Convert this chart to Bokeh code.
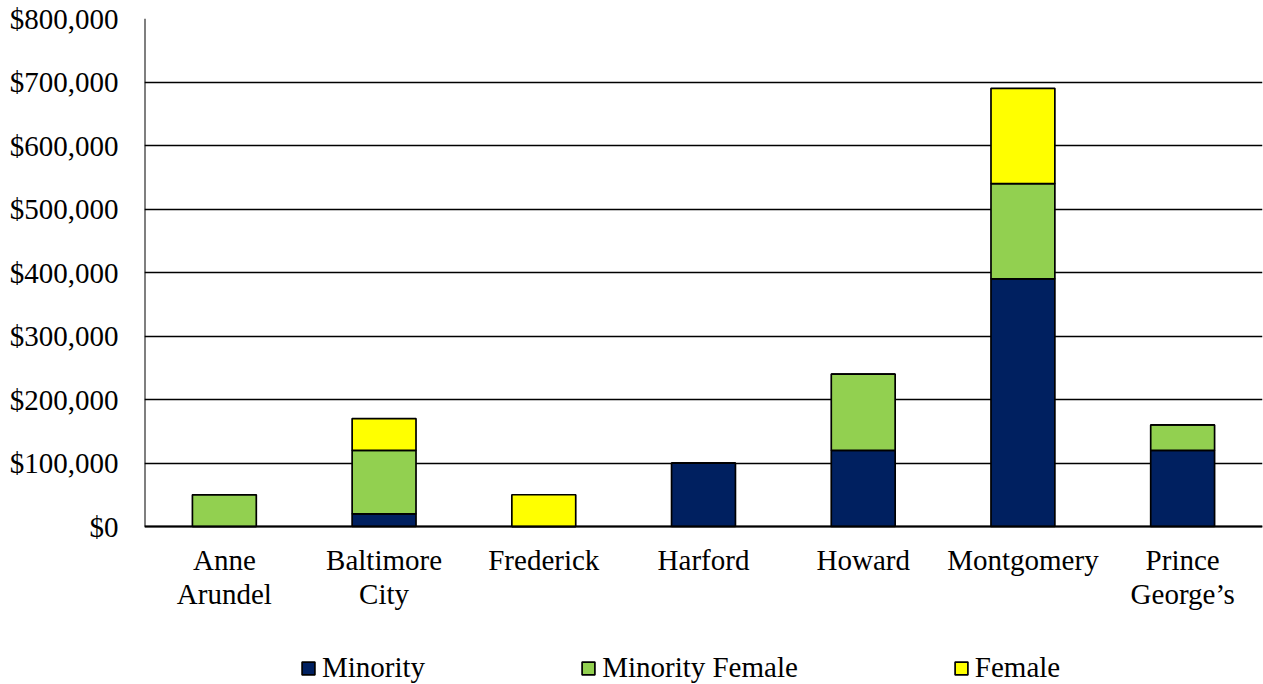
from bokeh.plotting import figure
from bokeh.models import ColumnDataSource, FactorRange, Range1d, FixedTicker, NumeralTickFormatter, Legend, LegendItem
from bokeh.core.properties import value
from bokeh.embed import file_html
from bokeh.resources import INLINE

counties = ["Anne\nArundel", "Baltimore\nCity", "Frederick", "Harford", "Howard", "Montgomery", "Prince\nGeorge\u2019s"]
minority = [0, 20000, 0, 100000, 120000, 390000, 120000]
minority_female = [50000, 100000, 0, 0, 120000, 150000, 40000]
female = [0, 50000, 50000, 0, 0, 150000, 0]
series_names = ["Minority", "Minority Female", "Female"]
colors = ["#002060", "#92D050", "#FFFF00"]
y_ticks = [0, 100000, 200000, 300000, 400000, 500000, 600000, 700000, 800000]

FONT = "Liberation Serif"
FS = "29px"

# layout: value area 508 px tall, plus 158 px below $0 for labels and legend
Y_MAX = 800000
VALUE_PX = 508
BELOW_PX = 158
y_min = -BELOW_PX * Y_MAX / VALUE_PX

source = ColumnDataSource(dict(county=counties, minority=minority,
                               minority_female=minority_female, female=female))

p = figure(x_range=FactorRange(*counties), y_range=Range1d(y_min, Y_MAX),
           frame_width=1118, frame_height=VALUE_PX + BELOW_PX,
           output_backend="svg", toolbar_location=None,
           min_border_left=144, min_border_right=1, min_border_top=18, min_border_bottom=0)

p.x_range.range_padding = 0
p.x_range.group_padding = 0
p.outline_line_color = None
p.background_fill_color = "white"
p.border_fill_color = "white"
p.xgrid.grid_line_color = None
p.ygrid.grid_line_color = "black"
p.ygrid.grid_line_width = 1.5

renderers = p.vbar_stack(["minority", "minority_female", "female"], x="county", width=0.4,
                         color=colors, line_color="black", line_width=1.7, source=source)

# axis lines (value axis and category baseline)
n = len(counties)
p.segment(x0=[0, 0], y0=[0, 0], x1=[0, n], y1=[Y_MAX, 0], line_color="black", line_width=2)

# category labels
p.text(x=counties, y=[0] * n, text=counties, text_font=value(FONT), text_font_size=FS,
       text_color="black", text_align="center", text_baseline="top", y_offset=17,
       text_line_height=1.07)

p.xaxis.visible = False
yax = p.yaxis[0]
yax.ticker = FixedTicker(ticks=y_ticks)
yax.formatter = NumeralTickFormatter(format="$0,0")
yax.major_label_text_font = FONT
yax.major_label_text_font_size = FS
yax.major_label_text_color = "black"
yax.major_tick_line_color = None
yax.minor_tick_line_color = None
yax.major_tick_out = 0
yax.major_tick_in = 0
yax.axis_line_color = None
yax.major_label_standoff = 26

legend = Legend(items=[LegendItem(label=s, renderers=[r]) for s, r in zip(series_names, renderers)],
                orientation="horizontal", location=(156, 0),
                label_text_font=FONT, label_text_font_size=FS, label_text_color="black",
                glyph_width=16, glyph_height=16, spacing=155, label_standoff=6,
                padding=0, margin=0, border_line_color=None, background_fill_alpha=0)
p.add_layout(legend, "center")

open("out.html", "w").write(file_html(p, INLINE))
